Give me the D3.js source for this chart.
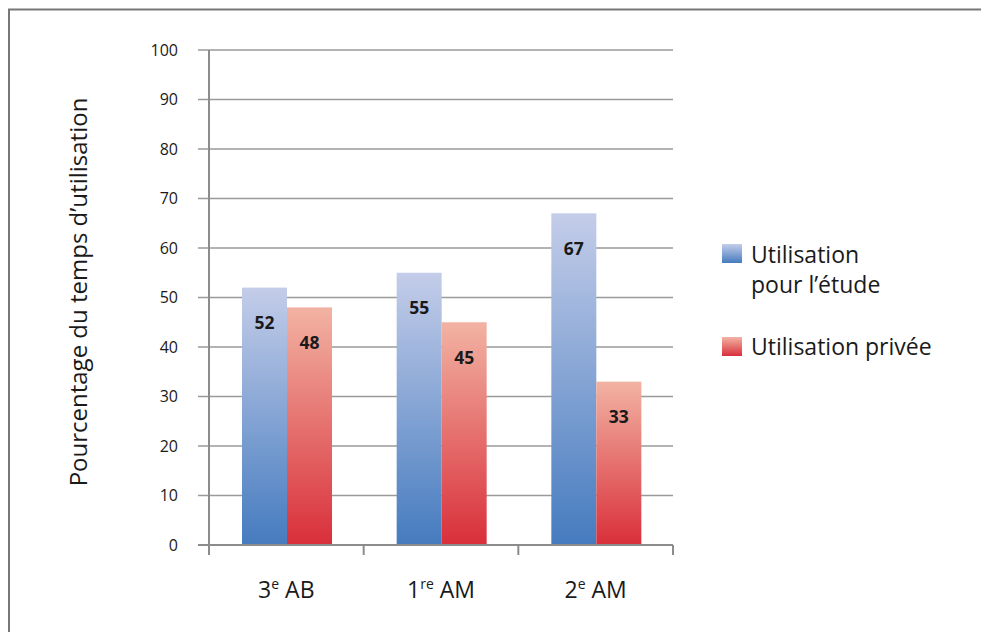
<!DOCTYPE html>
<meta charset="utf-8">
<style>
    body { margin: 0; background: #fff; }
    text { font-family: "Open Sans", sans-serif; fill: #1a1a1a; }
    .grid line { stroke: #9a9a9a; stroke-width: 1.5px; }
    .axis line, .axis path { stroke: #8c8c8c; stroke-width: 2px; }
    .val { font-weight: bold; font-size: 17.5px; }
</style>
<body>
<script src="https://d3js.org/d3.v7.min.js"></script>
<script>

// data
var categories = ["3e AB", "1re AM", "2e AM"];
var catBase = ["3", "1", "2"],
    catSup = ["e", "re", "e"],
    catRest = ["AB", "AM", "AM"];
var series = ["Utilisation pour l\u2019étude", "Utilisation privée"];
var etude = [52, 55, 67];
var privee = [48, 45, 33];
var yTicks = [0, 10, 20, 30, 40, 50, 60, 70, 80, 90, 100];

var W = 981, H = 632;
var svg = d3.select("body").append("svg")
    .attr("width", W)
    .attr("height", H);

// frame (only top and left are visible)
svg.append("path")
    .attr("d", "M9," + H + "V9.5H" + W)
    .attr("fill", "none")
    .attr("stroke", "#777")
    .attr("stroke-width", 2);

var defs = svg.append("defs");
function grad(id, top, bottom) {
    var g = defs.append("linearGradient").attr("id", id)
        .attr("x1", 0).attr("y1", 0).attr("x2", 0).attr("y2", 1);
    g.append("stop").attr("offset", "0%").attr("stop-color", top);
    g.append("stop").attr("offset", "100%").attr("stop-color", bottom);
}
grad("gBlue", "#c4cde9", "#457bbf");
grad("gRed", "#f2b3a3", "#d92f3a");

var x0 = d3.scaleBand().domain(categories).range([209, 673]);
var x1 = d3.scaleBand().domain(series).range([33, 123]);
var y = d3.scaleLinear().domain([0, 100]).range([545, 50]);

// gridlines
svg.append("g").attr("class", "grid")
    .selectAll("line")
    .data(yTicks.filter(function(d) { return d > 0; }))
    .enter().append("line")
    .attr("x1", 198).attr("x2", 673)
    .attr("y1", function(d) { return y(d); })
    .attr("y2", function(d) { return y(d); });

// y tick labels
svg.append("g")
    .selectAll("text")
    .data(yTicks)
    .enter().append("text")
    .attr("x", 178)
    .attr("y", function(d) { return y(d); })
    .attr("dy", "0.36em")
    .attr("text-anchor", "end")
    .style("font-size", "16px")
    .text(function(d) { return d; });

// bars
var rows = categories.map(function(c, i) {
    return [
        {cat: c, s: series[0], v: etude[i], fill: "url(#gBlue)"},
        {cat: c, s: series[1], v: privee[i], fill: "url(#gRed)"}
    ];
});

var grp = svg.append("g").selectAll("g")
    .data(rows)
    .enter().append("g")
    .attr("transform", function(d, i) { return "translate(" + x0(categories[i]) + ",0)"; });

grp.selectAll("rect")
    .data(function(d) { return d; })
    .enter().append("rect")
    .attr("x", function(d) { return x1(d.s); })
    .attr("width", x1.bandwidth())
    .attr("y", function(d) { return y(d.v); })
    .attr("height", function(d) { return y(0) - y(d.v); })
    .attr("fill", function(d) { return d.fill; });

grp.selectAll("text")
    .data(function(d) { return d; })
    .enter().append("text")
    .attr("class", "val")
    .attr("x", function(d) { return x1(d.s) + x1.bandwidth() / 2; })
    .attr("y", function(d) { return y(d.v) + 35; })
    .attr("dy", "0.36em")
    .attr("text-anchor", "middle")
    .text(function(d) { return d.v; });

// axes lines
var ax = svg.append("g").attr("class", "axis");
ax.append("line").attr("x1", 209).attr("x2", 209).attr("y1", y(100)).attr("y2", 555);
ax.append("line").attr("x1", 198).attr("x2", 673).attr("y1", y(0)).attr("y2", y(0));
ax.selectAll(".tk")
    .data(categories.concat(["end"]))
    .enter().append("line")
    .attr("class", "tk")
    .attr("x1", function(d, i) { return 209 + i * x0.bandwidth(); })
    .attr("x2", function(d, i) { return 209 + i * x0.bandwidth(); })
    .attr("y1", y(0)).attr("y2", 555);

// x labels with superscripts
var xl = svg.append("g").selectAll("text")
    .data(categories)
    .enter().append("text")
    .attr("x", function(d) { return x0(d) + x0.bandwidth() / 2; })
    .attr("y", 598)
    .attr("text-anchor", "middle")
    .style("font-size", "23px");
xl.append("tspan").text(function(d, i) { return catBase[i]; });
xl.append("tspan").attr("dy", -9).style("font-size", "14px")
    .text(function(d, i) { return catSup[i]; });
xl.append("tspan").attr("dy", 9).text(function(d, i) { return "\u00a0" + catRest[i]; });

// y axis title
svg.append("text")
    .attr("transform", "translate(87,292) rotate(-90)")
    .attr("text-anchor", "middle")
    .style("font-size", "24px")
    .text("Pourcentage du temps d\u2019utilisation");

// legend
var leg = svg.append("g");
leg.append("rect").attr("x", 722).attr("y", 244).attr("width", 20).attr("height", 19).attr("fill", "url(#gBlue)");
leg.append("rect").attr("x", 722).attr("y", 337).attr("width", 20).attr("height", 19).attr("fill", "url(#gRed)");
leg.append("text").attr("x", 751).attr("y", 263).style("font-size", "23px").text("Utilisation");
leg.append("text").attr("x", 751).attr("y", 293).style("font-size", "23px").text("pour l\u2019étude");
leg.append("text").attr("x", 751).attr("y", 355).style("font-size", "23px").text(series[1]);

</script>
</body>
